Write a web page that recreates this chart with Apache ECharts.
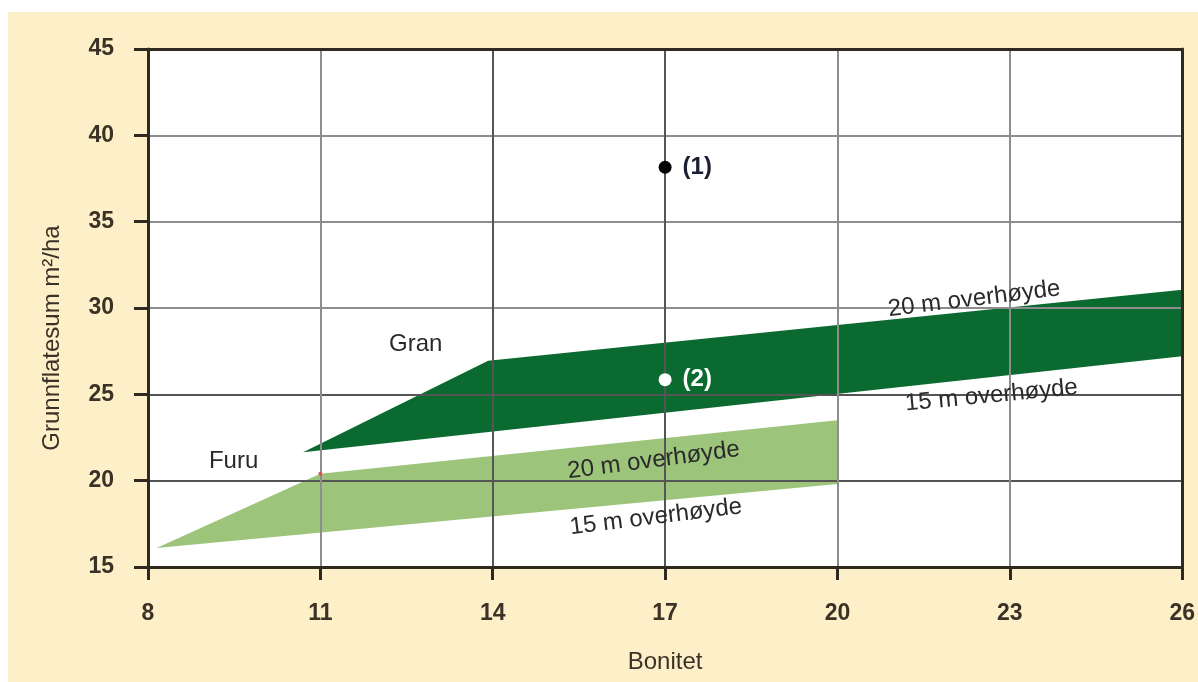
<!DOCTYPE html>
<html>
<head>
<meta charset="utf-8">
<title>Grunnflatesum og bonitet</title>
<script src="https://cdn.jsdelivr.net/npm/echarts@6/dist/echarts.min.js"></script>
<style>
  html, body { margin: 0; padding: 0; background: #fff; }
  #chart { position: absolute; left: 8px; top: 12px; width: 1190px; height: 670px; background: #fdf0c9; }
</style>
</head>
<body>
<div id="chart"></div>
<script>
// Bonitet on x, grunnflatesum (m2/ha) on y
var xMin = 8, xMax = 26, xStep = 3;
var yMin = 15, yMax = 45, yStep = 5;

// Gran band (dark green), corners: tip, 14, right top, right bottom
var granX = [10.7, 13.92, 26, 26];
var granY = [21.65, 26.95, 31.05, 27.2];

// Furu band (light green)
var furuX = [8.15, 11, 20, 20];
var furuY = [16.1, 20.4, 23.5, 19.8];

// the two marked stands
var pointX = [17, 17];
var pointY = [38.15, 25.85];
var pointNames = ['(1)', '(2)'];

// small red mark on the furu corner
var markX = [11];
var markY = [20.4];

// texts on the chart
var noteText = ['Gran', 'Furu', '20 m overhøyde', '15 m overhøyde', '20 m overhøyde', '15 m overhøyde'];
var noteX = [12.66, 9.49, 22.38, 22.68, 16.80, 16.84];
var noteY = [27.87, 21.12, 30.52, 24.92, 21.17, 17.89];
var noteAngle = [0, 0, 7, 5.5, 7.4, 7];

var FONT = '"Liberation Sans", Arial, sans-serif';
var INK = '#3a3226';
var AXIS = '#2e2a20';

function band(xs, ys, color) {
    return {
        type: 'custom',
        z: 2,
        silent: true,
        data: [[xs[0], ys[0]]],
        renderItem: function (params, api) {
            var pts = xs.map(function (x, i) { return api.coord([x, ys[i]]); });
            return { type: 'polygon', shape: { points: pts }, style: { fill: color } };
        }
    };
}

var chart = echarts.init(document.getElementById('chart'));

var option = {
    animation: false,
    grid: { left: 140, top: 37, right: 11, bottom: 115, show: true, backgroundColor: '#fff', borderWidth: 0 },
    xAxis: [{
        type: 'value', min: xMin, max: xMax, interval: xStep, position: 'bottom', z: 3,
        axisLine: { show: true, lineStyle: { color: AXIS, width: 3 } },
        axisTick: { show: true, length: 13, lineStyle: { color: AXIS, width: 3 } },
        axisLabel: { margin: 35, fontSize: 23, fontWeight: 'bold', color: INK, fontFamily: FONT },
        splitLine: {
            show: true, showMinLine: false, showMaxLine: false,
            lineStyle: { width: 2, color: ['#8d8d8d', '#555', '#555', '#8d8d8d', '#8d8d8d'] }
        },
        name: 'Bonitet', nameLocation: 'middle', nameGap: 83,
        nameTextStyle: { fontSize: 24, color: INK, fontFamily: FONT }
    }, {
        type: 'value', min: xMin, max: xMax, position: 'top', z: 3,
        axisLine: { show: true, lineStyle: { color: AXIS, width: 3 } },
        axisTick: { show: false }, axisLabel: { show: false }, splitLine: { show: false }
    }],
    yAxis: [{
        type: 'value', min: yMin, max: yMax, interval: yStep, position: 'left', z: 3,
        axisLine: { show: true, lineStyle: { color: AXIS, width: 3 } },
        axisTick: { show: true, length: 14, lineStyle: { color: AXIS, width: 3 } },
        axisLabel: { margin: 34, fontSize: 23, fontWeight: 'bold', color: INK, fontFamily: FONT },
        splitLine: {
            show: true, showMinLine: false, showMaxLine: false,
            lineStyle: { width: 2, color: ['#555', '#555', '#8d8d8d', '#8d8d8d', '#8d8d8d'] }
        },
        name: 'Grunnflatesum m²/ha', nameLocation: 'middle', nameGap: 84, nameRotate: 90,
        nameTextStyle: { fontSize: 24, color: INK, fontFamily: FONT, padding: [0, 60, 0, 0] }
    }, {
        type: 'value', min: yMin, max: yMax, position: 'right', z: 3,
        axisLine: { show: true, lineStyle: { color: AXIS, width: 3 } },
        axisTick: { show: false }, axisLabel: { show: false }, splitLine: { show: false }
    }],
    series: [
        band(granX, granY, '#0b6a30'),
        band(furuX, furuY, '#9cc47b'),
        {
            type: 'scatter', z: 6, silent: true,
            symbolSize: 4,
            itemStyle: { color: '#e0504a', opacity: 1 },
            data: markX.map(function (x, i) { return [x, markY[i]]; })
        },
        {
            type: 'scatter', z: 7, silent: true,
            symbolSize: 13,
            data: pointX.map(function (x, i) {
                return {
                    value: [x, pointY[i]],
                    name: pointNames[i],
                    itemStyle: { color: i === 0 ? '#050505' : '#ffffff', opacity: 1 },
                    label: { color: i === 0 ? '#1b1f33' : '#ffffff' }
                };
            }),
            label: {
                show: true, position: 'right', distance: 11, formatter: '{b}',
                fontSize: 24, fontWeight: 'bold', fontFamily: FONT
            }
        },
        {
            type: 'custom', z: 8, silent: true,
            data: noteText.map(function (t, i) { return [noteX[i], noteY[i]]; }),
            renderItem: function (params, api) {
                var i = params.dataIndex;
                var p = api.coord([noteX[i], noteY[i]]);
                return {
                    type: 'text', x: p[0], y: p[1],
                    rotation: noteAngle[i] * Math.PI / 180,
                    style: {
                        text: noteText[i], fill: '#2a2a2a',
                        fontSize: 24, fontFamily: FONT,
                        align: 'center', verticalAlign: 'middle'
                    }
                };
            }
        }
    ]
};

chart.setOption(option);
</script>
</body>
</html>
